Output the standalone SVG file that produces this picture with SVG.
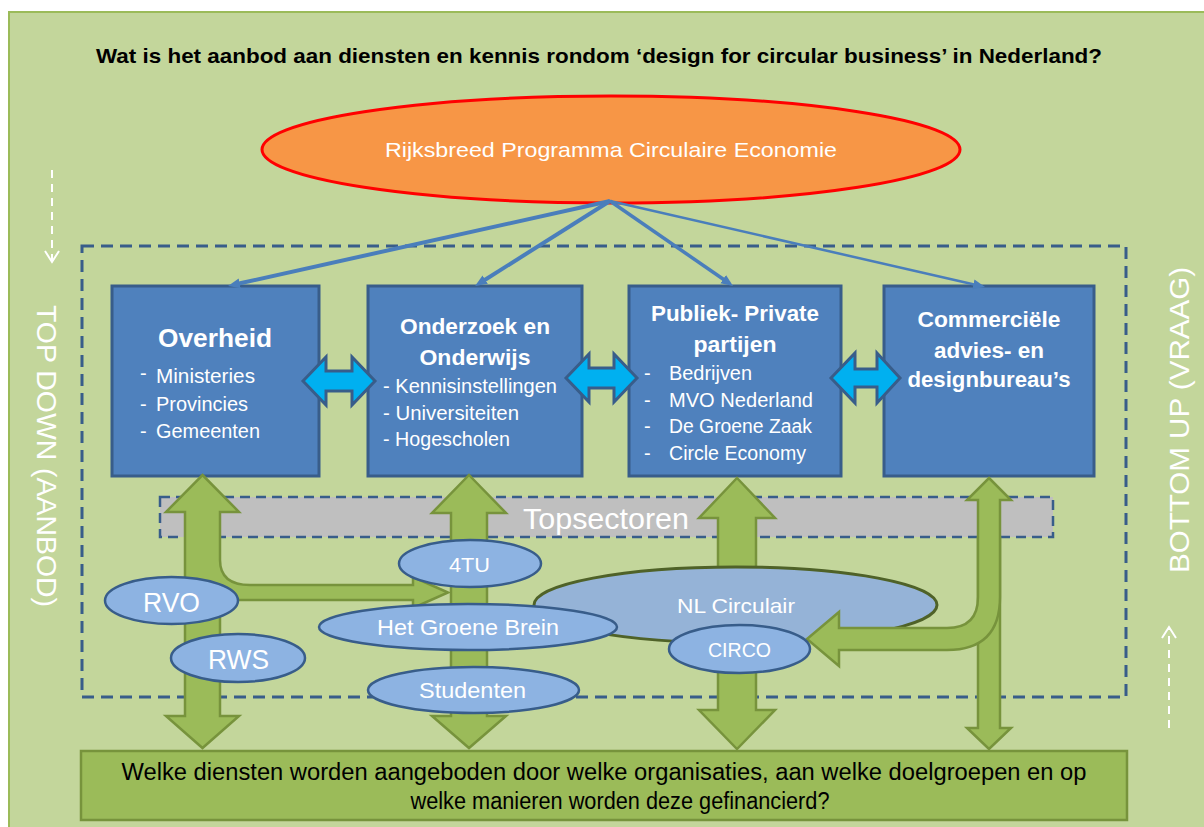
<svg xmlns="http://www.w3.org/2000/svg" width="1204" height="827" viewBox="0 0 1204 827">
<defs>
<style>
.t{font-family:"Liberation Sans",Arial,sans-serif}
.w{fill:#ffffff}
.b{font-weight:bold}
.box{fill:#4f81bd;stroke:#385d8a;stroke-width:3}
.ell{fill:#8db3e2;stroke:#385d8a;stroke-width:2.5}
.g{fill:#9bbb59;stroke:#77933c;stroke-width:2.5;stroke-linejoin:miter}
.gf{fill:#9bbb59;stroke:none}
.gs{fill:none;stroke:#77933c;stroke-width:2.5}
.c{fill:#00b0f0;stroke:#385d8a;stroke-width:3;stroke-linejoin:miter}
.ln{stroke:#4a7ebb;fill:none;marker-end:url(#ah)}
.dash{fill:none;stroke:#385d8a;stroke-width:3;stroke-dasharray:12 7}
.wd{fill:none;stroke:#ffffff;stroke-width:2}
</style>
<marker id="ah" markerUnits="userSpaceOnUse" markerWidth="14" markerHeight="12" refX="2" refY="5" orient="auto">
<path d="M0,0 L12,5 L0,10 Z" fill="#4a7ebb"/>
</marker>
</defs>

<rect x="9" y="12" width="1200" height="830" fill="#c3d69b" stroke="#9bbb59" stroke-width="2"/>

<g id="title">
<text class="t b" x="599" y="63" font-size="21" text-anchor="middle" textLength="1006" lengthAdjust="spacingAndGlyphs">Wat is het aanbod aan diensten en kennis rondom ‘design for circular business’ in Nederland?</text>
</g>

<g id="frame">
<rect class="dash" x="82" y="246" width="1044" height="451"/>
</g>

<g id="side-labels">
<line class="wd" x1="52" y1="170" x2="52" y2="260" stroke-dasharray="8 6"/>
<polyline class="wd" points="45,251 52,262 59,251"/>
<text class="t w" transform="translate(37,456) rotate(90)" font-size="28" text-anchor="middle" textLength="302" lengthAdjust="spacingAndGlyphs">TOP DOWN (AANBOD)</text>
<line class="wd" x1="1169" y1="728" x2="1169" y2="629" stroke-dasharray="8 6"/>
<polyline class="wd" points="1162,638 1169,627 1176,638"/>
<text class="t w" transform="translate(1189,420) rotate(-90)" font-size="28" text-anchor="middle" textLength="306" lengthAdjust="spacingAndGlyphs">BOTTOM UP  (VRAAG)</text>
</g>

<g id="rijksbreed">
<ellipse cx="611" cy="149.5" rx="349" ry="53.5" fill="#f79646" stroke="#ff0000" stroke-width="3"/>
<text class="t w" x="611" y="157" font-size="21" text-anchor="middle" textLength="452" lengthAdjust="spacingAndGlyphs">Rijksbreed Programma Circulaire Economie</text>
</g>

<g id="overheid">
<rect class="box" x="112" y="286" width="207" height="190"/>
<text class="t w b" x="215" y="347" font-size="25" text-anchor="middle" textLength="114" lengthAdjust="spacingAndGlyphs">Overheid</text>
<text class="t w" x="140" y="380" font-size="20">-</text>
<text class="t w" x="156" y="383" font-size="20" textLength="99" lengthAdjust="spacingAndGlyphs">Ministeries</text>
<text class="t w" x="140" y="411" font-size="20">-</text>
<text class="t w" x="156" y="411" font-size="20" textLength="92" lengthAdjust="spacingAndGlyphs">Provincies</text>
<text class="t w" x="140" y="438" font-size="20">-</text>
<text class="t w" x="156" y="438" font-size="20" textLength="104" lengthAdjust="spacingAndGlyphs">Gemeenten</text>
</g>

<g id="onderzoek">
<rect class="box" x="368" y="286" width="214" height="190"/>
<text class="t w b" x="475" y="334" font-size="22" text-anchor="middle" textLength="150" lengthAdjust="spacingAndGlyphs">Onderzoek en</text>
<text class="t w b" x="475" y="365" font-size="22" text-anchor="middle" textLength="111" lengthAdjust="spacingAndGlyphs">Onderwijs</text>
<text class="t w" x="383" y="393" font-size="20" textLength="174" lengthAdjust="spacingAndGlyphs">- Kennisinstellingen</text>
<text class="t w" x="383" y="420" font-size="20" textLength="136" lengthAdjust="spacingAndGlyphs">- Universiteiten</text>
<text class="t w" x="383" y="446" font-size="20" textLength="127" lengthAdjust="spacingAndGlyphs">- Hogescholen</text>
</g>

<g id="publiek">
<rect class="box" x="629" y="286" width="212" height="190"/>
<text class="t w b" x="735" y="321" font-size="22" text-anchor="middle" textLength="168" lengthAdjust="spacingAndGlyphs">Publiek- Private</text>
<text class="t w b" x="735" y="352" font-size="22" text-anchor="middle" textLength="83" lengthAdjust="spacingAndGlyphs">partijen</text>
<text class="t w" x="644" y="380" font-size="20">-</text>
<text class="t w" x="669" y="380" font-size="20" textLength="83" lengthAdjust="spacingAndGlyphs">Bedrijven</text>
<text class="t w" x="644" y="407" font-size="20">-</text>
<text class="t w" x="669" y="407" font-size="20" textLength="144" lengthAdjust="spacingAndGlyphs">MVO Nederland</text>
<text class="t w" x="644" y="433" font-size="20">-</text>
<text class="t w" x="669" y="433" font-size="20" textLength="143" lengthAdjust="spacingAndGlyphs">De Groene Zaak</text>
<text class="t w" x="644" y="460" font-size="20">-</text>
<text class="t w" x="669" y="460" font-size="20" textLength="137" lengthAdjust="spacingAndGlyphs">Circle Economy</text>
</g>

<g id="commercieel">
<rect class="box" x="884" y="286" width="210" height="190"/>
<text class="t w b" x="989" y="327" font-size="22" text-anchor="middle" textLength="143" lengthAdjust="spacingAndGlyphs">Commerciële</text>
<text class="t w b" x="989" y="358" font-size="22" text-anchor="middle" textLength="110" lengthAdjust="spacingAndGlyphs">advies- en</text>
<text class="t w b" x="989" y="387" font-size="22" text-anchor="middle" textLength="163" lengthAdjust="spacingAndGlyphs">designbureau’s</text>
</g>

<g id="topsectoren">
<rect x="160" y="497" width="893" height="40" fill="#bfbfbf" stroke="#385d8a" stroke-width="2.5" stroke-dasharray="10 6"/>
<text class="t w" x="606" y="529" font-size="30" text-anchor="middle" textLength="166" lengthAdjust="spacingAndGlyphs">Topsectoren</text>
</g>

<g id="connectors">
<line class="ln" x1="610" y1="201" x2="237.8" y2="283.8" stroke-width="4"/>
<line class="ln" x1="610" y1="201" x2="483.5" y2="280.7" stroke-width="4"/>
<line class="ln" x1="610" y1="201" x2="724.8" y2="280.3" stroke-width="3.5"/>
<line class="ln" x1="610" y1="201" x2="975.3" y2="284.8" stroke-width="2.5"/>
<path class="c" d="M303,381 L326,357 L326,371 L352,371 L352,357 L375,381 L352,405 L352,391 L326,391 L326,405 Z"/>
<path class="c" d="M566,378 L589,354 L589,368 L614,368 L614,354 L637,378 L614,402 L614,388 L589,388 L589,402 Z"/>
<path class="c" d="M831,378 L855,353 L855,369 L877,369 L877,353 L900,378 L877,403 L877,387 L855,387 L855,403 Z"/>
<path class="g" d="M202.5,475 L239,512 L220,512 L220,560 Q220,585 250,585 L413,585 L413,577 L448,592.5 L413,608 L413,600 L220,600 L220,716 L239,716 L202.5,748 L166,716 L185,716 L185,512 L166,512 Z"/>
<path class="g" d="M469,475 L506,513 L487,513 L487,716 L506,716 L469,748 L432,716 L451,716 L451,513 L432,513 Z"/>
<path class="g" d="M737,478 L775,518 L756,518 L756,710 L775,710 L737,749 L699,710 L718,710 L718,518 L699,518 Z"/>
<path class="g" d="M989,478 L1011,500 L1000,500 L1000,728 L1011,728 L989,749 L967,728 L978,728 L978,500 L967,500 Z"/>
</g>

<g id="nl-circulair">
<ellipse cx="735.5" cy="605" rx="201.5" ry="38" fill="#95b3d7" stroke="#4f6228" stroke-width="3"/>
<text class="t w" x="736" y="613" font-size="21" text-anchor="middle" textLength="118" lengthAdjust="spacingAndGlyphs">NL Circulair</text>
</g>

<g id="connector-bent">
<path class="gf" d="M978,537 L978,597 Q978,628 947,628 L839,628 L839,612 L807,639 L839,666 L839,650 L947,650 Q1000,650 1000,597 L1000,537 Z"/>
<path class="gs" d="M978,537 L978,597 Q978,628 947,628 L839,628 L839,612 L807,639 L839,666 L839,650 L947,650 Q1000,650 1000,597 L1000,537"/>
</g>

<g id="rvo">
<ellipse class="ell" cx="171.5" cy="600.5" rx="66.5" ry="23.5"/>
<text class="t w" x="171.5" y="612" font-size="28" text-anchor="middle" textLength="57" lengthAdjust="spacingAndGlyphs">RVO</text>
</g>
<g id="rws">
<ellipse class="ell" cx="238" cy="658" rx="67" ry="24"/>
<text class="t w" x="238.5" y="669" font-size="28" text-anchor="middle" textLength="61" lengthAdjust="spacingAndGlyphs">RWS</text>
</g>
<g id="4tu">
<ellipse class="ell" cx="470" cy="563.5" rx="71" ry="23.5"/>
<text class="t w" x="469.5" y="572" font-size="21" text-anchor="middle" textLength="41" lengthAdjust="spacingAndGlyphs">4TU</text>
</g>
<g id="het-groene-brein">
<ellipse class="ell" cx="468" cy="627" rx="149" ry="23"/>
<text class="t w" x="468" y="635" font-size="22" text-anchor="middle" textLength="182" lengthAdjust="spacingAndGlyphs">Het Groene Brein</text>
</g>
<g id="studenten">
<ellipse class="ell" cx="473.5" cy="690" rx="105.5" ry="23"/>
<text class="t w" x="472.5" y="698" font-size="22" text-anchor="middle" textLength="107" lengthAdjust="spacingAndGlyphs">Studenten</text>
</g>
<g id="circo">
<ellipse class="ell" cx="739.5" cy="649" rx="70.5" ry="24"/>
<text class="t w" x="739.5" y="657" font-size="20" text-anchor="middle" textLength="63" lengthAdjust="spacingAndGlyphs">CIRCO</text>
</g>

<g id="vraag">
<rect x="81" y="751" width="1046" height="69" fill="#9bbb59" stroke="#77933c" stroke-width="2.5"/>
<text class="t" x="604" y="780" font-size="23" fill="#000" text-anchor="middle" textLength="965" lengthAdjust="spacingAndGlyphs">Welke diensten worden aangeboden door welke organisaties, aan welke doelgroepen en op</text>
<text class="t" x="620" y="809" font-size="23" fill="#000" text-anchor="middle" textLength="419" lengthAdjust="spacingAndGlyphs">welke manieren worden deze gefinancierd?</text>
</g>
</svg>
